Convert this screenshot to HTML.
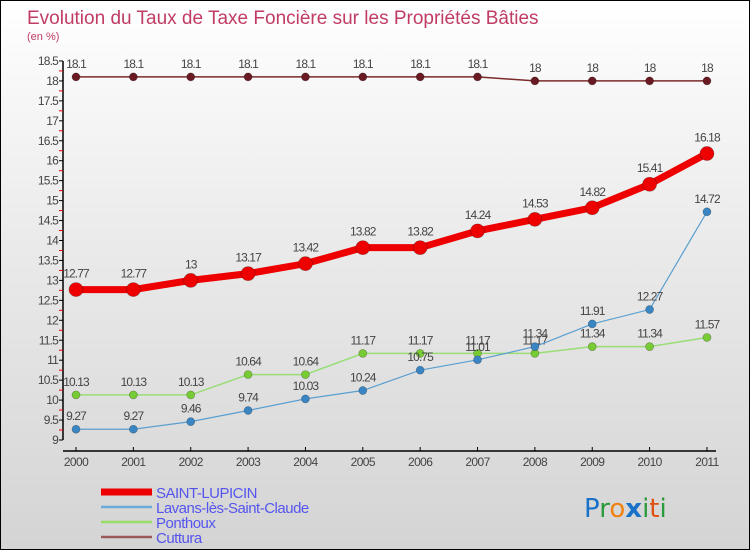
<!DOCTYPE html>
<html><head><meta charset="utf-8"><style>
body{margin:0}
#c{width:750px;height:550px;position:relative;box-sizing:border-box;border:1px solid #000;background:linear-gradient(#fff 0%,#ececec 40%,#d4d4d4 100%);font-family:"Liberation Sans",sans-serif;overflow:hidden}
svg{position:absolute;left:0;top:0}
</style></head><body>
<div id="c">
<svg id="s" width="750" height="550">
<text x="26" y="23" font-size="19" fill="#c03c64">Evolution du Taux de Taxe Foncière sur les Propriétés Bâties</text>
<text x="26" y="39" font-size="11" fill="#c03c64">(en %)</text>
<g font-size="26" font-family="'DejaVu Sans',sans-serif">
<text x="583" y="516"><tspan fill="#1a72c8">P</tspan><tspan fill="#2a9a3a">r</tspan><tspan fill="#f08010">o</tspan><tspan fill="#1a72c8" font-weight="bold">x</tspan><tspan fill="#2a9a3a">i</tspan><tspan fill="#e05010">t</tspan><tspan fill="#2a9a3a">i</tspan></text>
</g>
</svg>
</div>
<script>
const years=[2000,2001,2002,2003,2004,2005,2006,2007,2008,2009,2010,2011];
const saint=[12.77,12.77,13,13.17,13.42,13.82,13.82,14.24,14.53,14.82,15.41,16.18];
const lavans=[9.27,9.27,9.46,9.74,10.03,10.24,10.75,11.01,11.34,11.91,12.27,14.72];
const ponthoux=[10.13,10.13,10.13,10.64,10.64,11.17,11.17,11.17,11.17,11.34,11.34,11.57];
const cuttura=[18.1,18.1,18.1,18.1,18.1,18.1,18.1,18.1,18,18,18,18];
const yTicks=[9,9.5,10,10.5,11,11.5,12,12.5,13,13.5,14,14.5,15,15.5,16,16.5,17,17.5,18,18.5];
const NS="http://www.w3.org/2000/svg",s=document.getElementById('s');
const X=i=>75+i*57.36, Y=v=>439-(v-9)*39.9;
function mk(t,a,p){const e=document.createElementNS(NS,t);for(const k in a)e.setAttribute(k,a[k]);(p||s).appendChild(e);return e;}
const ax=mk('g',{});


mk('line',{x1:62,y1:Y(18.5),x2:62,y2:Y(9),stroke:'#000','stroke-width':1.5},ax);
mk('line',{x1:62,y1:450,x2:715,y2:450,stroke:'#000','stroke-width':1.5},ax);
yTicks.forEach(v=>{mk('line',{x1:58,y1:Y(v),x2:62,y2:Y(v),stroke:'#000'},ax);
 if(v<18.5)mk('line',{x1:58,y1:Y(v+0.25),x2:62,y2:Y(v+0.25),stroke:'#e00'},ax);
 const t=mk('text',{x:57,y:Y(v)+4,'font-size':12,'text-anchor':'end',fill:'#444','letter-spacing':'-0.8'},ax);t.textContent=String(v);
 
 });
years.forEach((y,i)=>{mk('line',{x1:X(i),y1:446,x2:X(i),y2:450,stroke:'#000'},ax);
 const t=mk('text',{x:X(i),y:465,'font-size':12,'text-anchor':'middle',fill:'#444','letter-spacing':'-0.6'},ax);t.textContent=y;
 
 });
function series(name,data,col,w,r,pcol){
 const g=mk('g',{});
 
 
 mk('polyline',{points:data.map((v,i)=>X(i)+','+Y(v)).join(' '),fill:'none',stroke:col,'stroke-width':w},g);
 data.forEach((v,i)=>{const c=mk('circle',{cx:X(i),cy:Y(v),r:r,fill:pcol,stroke:'rgba(0,0,0,0.3)','stroke-width':0.7},g);
  
  
  const t=mk('text',{x:X(i),y:Y(v)-r-5,'font-size':12,'text-anchor':'middle',fill:'#444','letter-spacing':'-0.9'},g);t.textContent=String(v);
  
  });
}
series('cuttura',cuttura,'#7a2a2a',1.5,4,'#6a1a22');
series('ponthoux',ponthoux,'#99dd77',1.5,4,'#77cc33');
series('lavans',lavans,'#5a9fd0',1.2,4,'#3a86c4');
series('saint-lupicin',saint,'#ee0000',7,7,'#ee0000');
const leg=[['SAINT-LUPICIN','#ee0000',7],['Lavans-lès-Saint-Claude','#6aaad8',2.5],['Ponthoux','#99dd66',2.5],['Cuttura','#9a5a5a',2.5]];
const ly=[493,508,523,538];
leg.forEach((l,i)=>{const g=mk('g',{});
 
 
 mk('line',{x1:100,y1:ly[i]-2,x2:151,y2:ly[i]-2,stroke:l[1],'stroke-width':l[2]},g);
 const t=mk('text',{x:155,y:ly[i]+4,'font-size':15,fill:'#5555ee','letter-spacing':'-0.5'},g);t.textContent=l[0];});
</script>
</body></html>
